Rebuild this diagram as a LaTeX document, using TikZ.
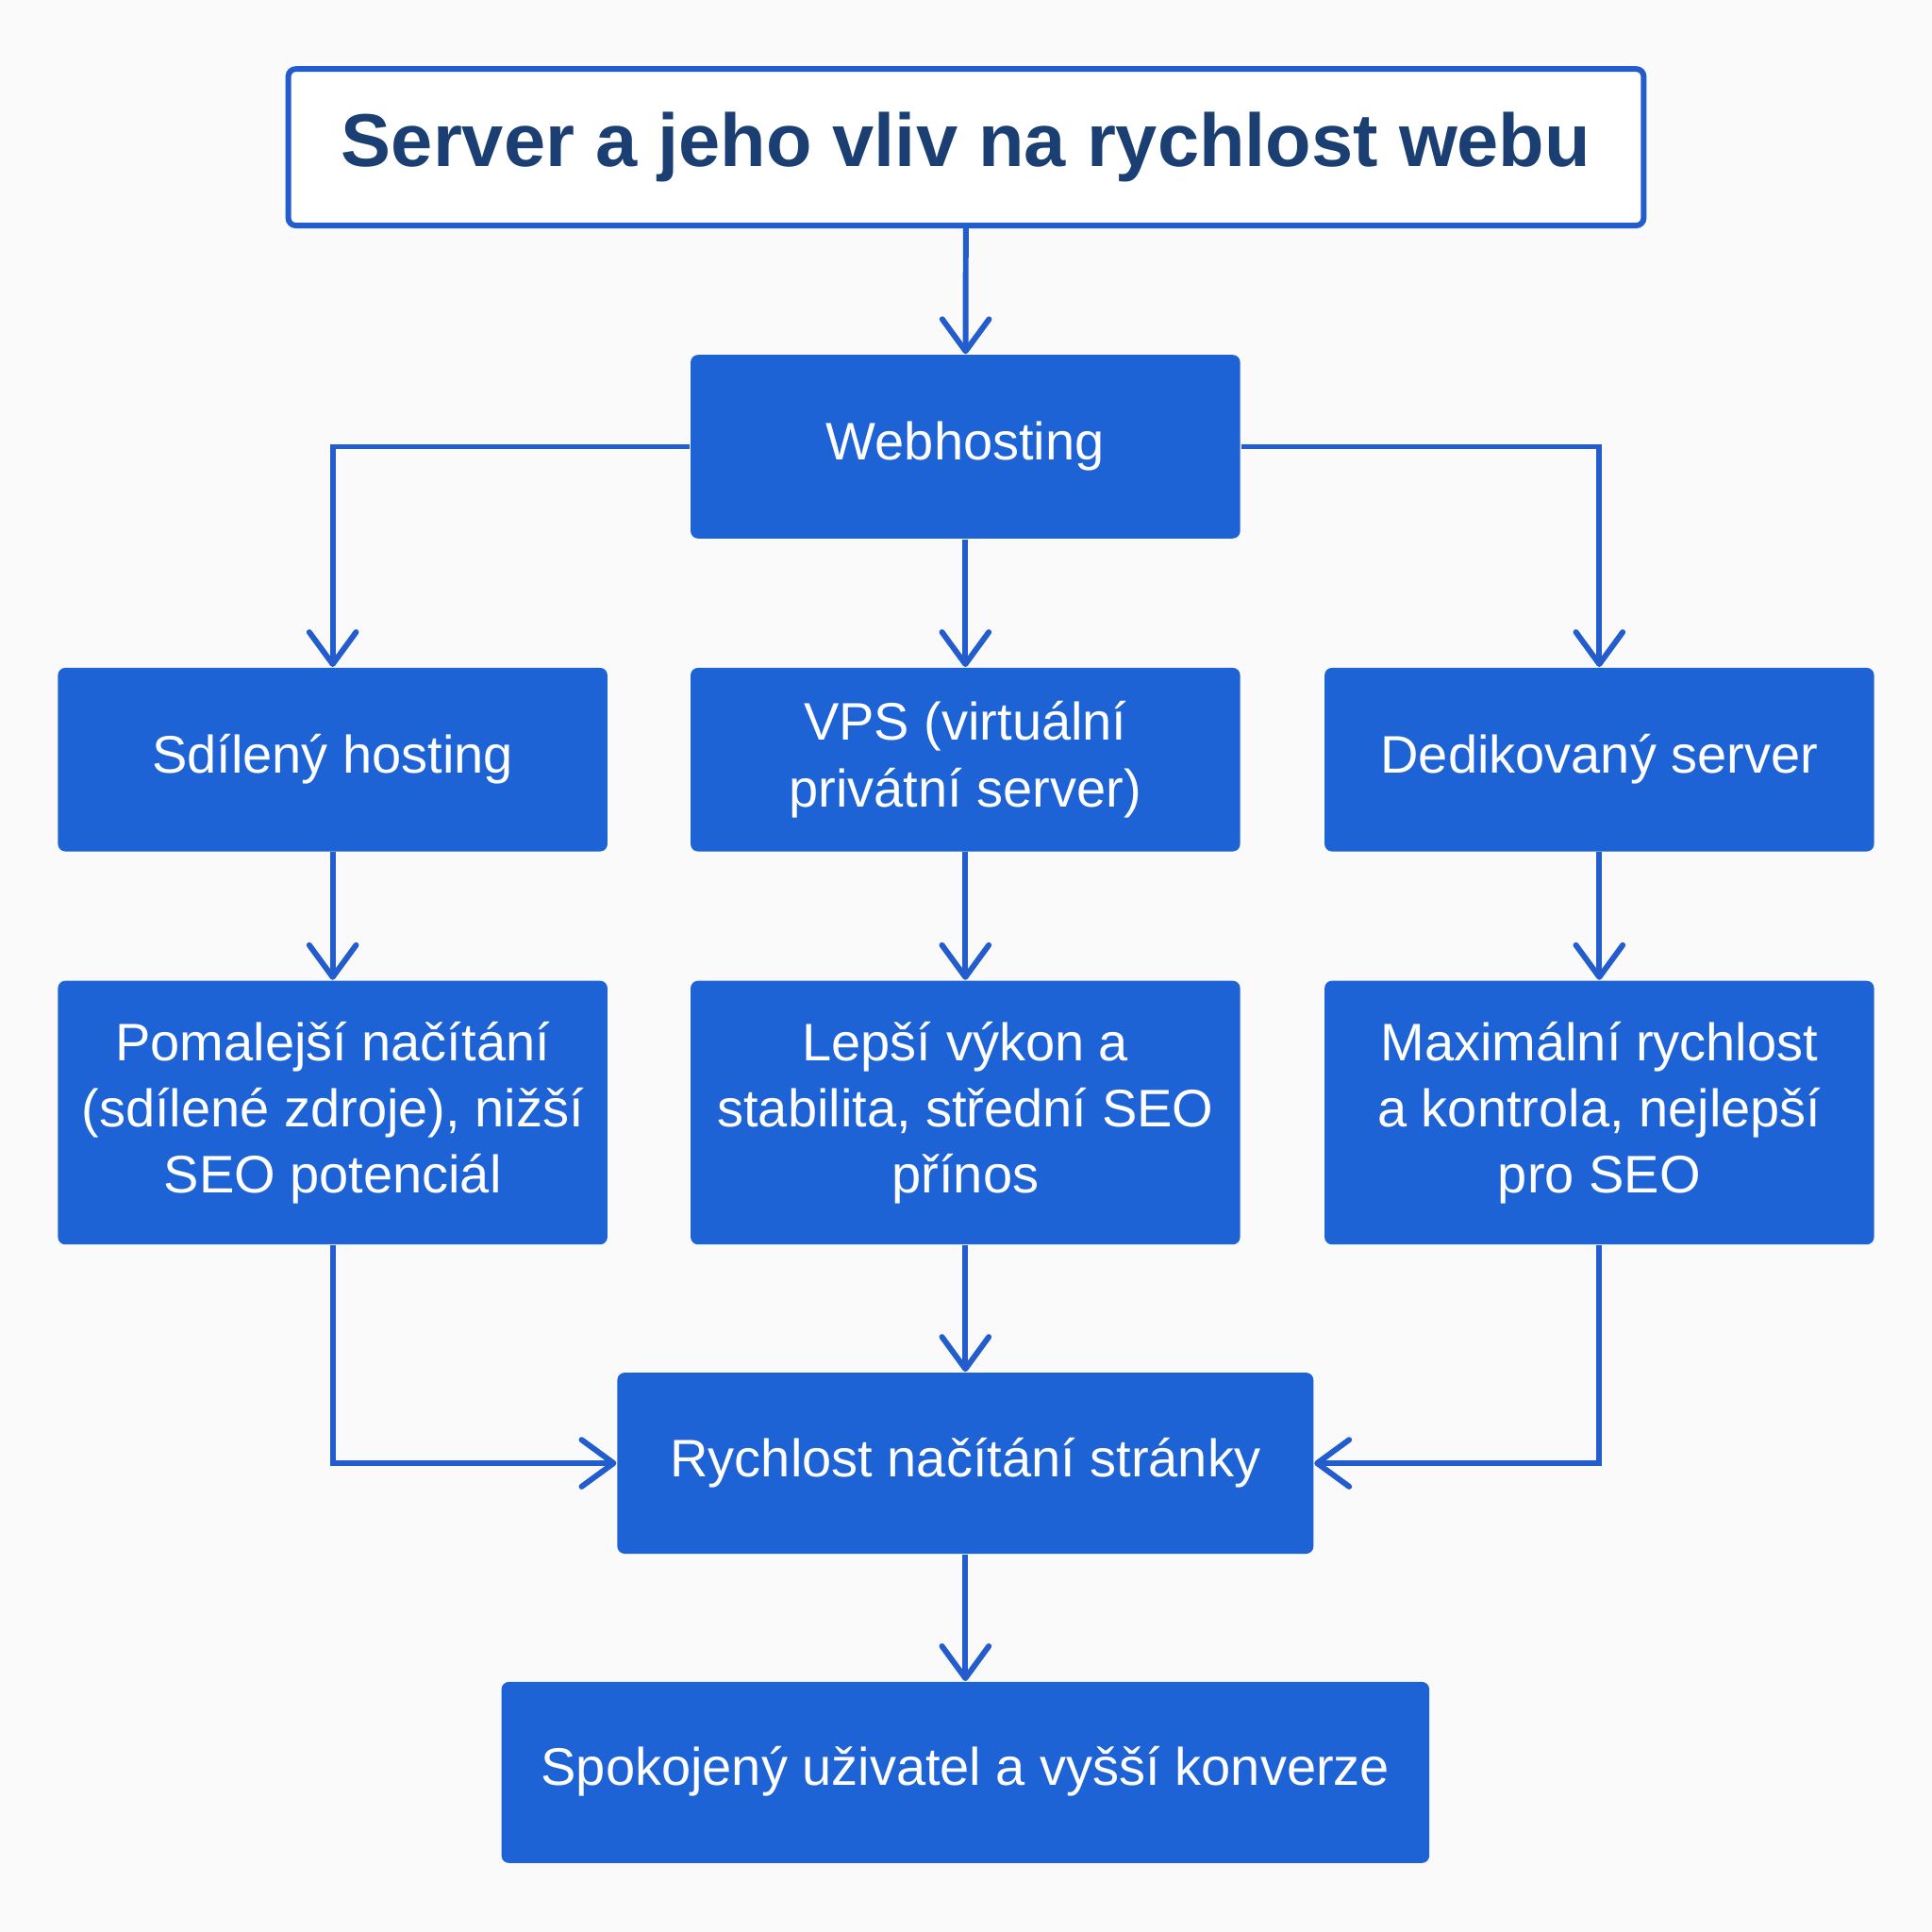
\documentclass[tikz,border=0pt]{standalone}
\usepackage{fontspec}
\setmainfont{Liberation Sans}
\usetikzlibrary{positioning, arrows.meta}
\definecolor{boxblue}{RGB}{30,99,214}
\definecolor{lineblue}{RGB}{34,92,205}
\definecolor{titlenavy}{RGB}{27,63,115}
\definecolor{bgwhite}{RGB}{250,250,250}

\begin{document}
\begin{tikzpicture}[x=0.1mm, y=-0.1mm,
  box/.style={fill=boxblue, text=white, rounded corners=0.6mm, minimum width=44.6mm, minimum height=14.9mm, inner sep=0pt, align=center, font=\fontsize{12.2}{15.3}\selectfont},
  tallbox/.style={box, minimum height=21.4mm},
  link/.style={draw=lineblue, line width=1.3pt, -{Straight Barb[length=2.6mm, width=3.8mm, round]}}]
% background
\fill[bgwhite] (0,0) rectangle (1568,1568);
\useasboundingbox (0,0) rectangle (1568,1568);

% title
\node[draw=lineblue, line width=1.3pt, fill=white, rounded corners=0.6mm, minimum width=110mm, minimum height=12.7mm, text=titlenavy, font=\fontsize{17.3}{21}\selectfont\bfseries] (title) at (784,119.5) {Server a jeho vliv na rychlost webu};

% hosting types
\node[box] (web) at (783.5,362.5) {\strut Webhosting};
\node[box] (shared) at (270,616.5) {\strut Sdílený hosting};
\node[box] (vps) at (783.5,616.5) {VPS (virtuální\\privátní server)};
\node[box] (dedi) at (1298,616.5) {\strut Dedikovaný server};

% effects
\node[tallbox] (slow) at (270,903) {Pomalejší načítání\\(sdílené zdroje), nižší\\SEO potenciál};
\node[tallbox] (mid) at (783.5,903) {Lepší výkon a\\stabilita, střední SEO\\přínos};
\node[tallbox] (maxi) at (1298,903) {Maximální rychlost\\a kontrola, nejlepší\\pro SEO};

% result
\node[box, minimum width=56.5mm, minimum height=14.7mm] (speed) at (783.5,1187.5) {\strut Rychlost načítání stránky};
\node[box, minimum width=75.3mm, minimum height=14.7mm] (happy) at (783.5,1438.5) {\strut Spokojený uživatel a vyšší konverze};

% connectors
\draw[link] (title) -- (web);
\draw[link] (web.west) -| (shared);
\draw[link] (web) -- (vps);
\draw[link] (web.east) -| (dedi);
\draw[link] (shared) -- (slow);
\draw[link] (vps) -- (mid);
\draw[link] (dedi) -- (maxi);
\draw[link] (slow) |- (speed);
\draw[link] (mid) -- (speed);
\draw[link] (maxi) |- (speed);
\draw[link] (speed) -- (happy);
\end{tikzpicture}
\end{document}
